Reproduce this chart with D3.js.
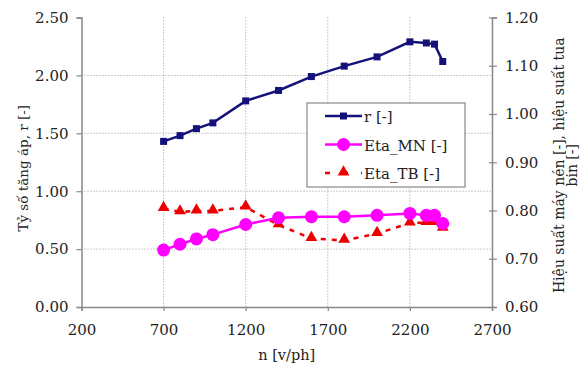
<!DOCTYPE html>
<html>
<head>
<meta charset="utf-8">
<script src="https://cdn.jsdelivr.net/npm/d3@7"></script>
<style>
  body { margin: 0; background: #fff; }
</style>
</head>
<body>
<div id="wrapper"></div>
<script>
// data
const speeds = [700, 800, 900, 1000, 1200, 1400, 1600, 1800, 2000, 2200, 2300, 2350, 2400];
const pressureRatio = [1.43, 1.48, 1.54, 1.59, 1.78, 1.87, 1.99, 2.08, 2.16, 2.29, 2.28, 2.27, 2.12];
const etaMN = [0.718, 0.730, 0.741, 0.750, 0.771, 0.785, 0.787, 0.787, 0.790, 0.794, 0.790, 0.790, 0.773];
const etaTB = [0.804, 0.797, 0.799, 0.799, 0.807, 0.770, 0.742, 0.738, 0.752, 0.774, 0.775, 0.775, 0.763];
const xTicks = [200, 700, 1200, 1700, 2200, 2700];
const yLeftTicks = [0, 0.5, 1, 1.5, 2, 2.5];
const yRightTicks = [0.6, 0.7, 0.8, 0.9, 1.0, 1.1, 1.2];

const legendItems = [
    {label: "r [-]", color: "#14127a", marker: "square", dash: null},
    {label: "Eta_MN [-]", color: "#ff00ff", marker: "circle", dash: null},
    {label: "Eta_TB [-]", color: "#ee0000", marker: "triangle", dash: "5,6"},
];

const serif = "'DejaVu Serif', serif";

let dimensions = {
    width: 581,
    height: 373,
    margin: {top: 17.5, right: 89, bottom: 66, left: 81.5}
};
dimensions.boundedWidth = dimensions.width - dimensions.margin.left - dimensions.margin.right;
dimensions.boundedHeight = dimensions.height - dimensions.margin.top - dimensions.margin.bottom;

const svg = d3.select("#wrapper").append("svg")
    .attr("width", dimensions.width)
    .attr("height", dimensions.height)
    .attr("font-family", serif)
    .attr("fill", "#222");
const bounds = svg.append("g")
    .attr("transform", `translate(${dimensions.margin.left},${dimensions.margin.top})`);

// scales
const xScale = d3.scaleLinear().domain([200, 2700]).range([0, dimensions.boundedWidth]);
const yLeft = d3.scaleLinear().domain([0, 2.5]).range([dimensions.boundedHeight, 0]);
const yRight = d3.scaleLinear().domain([0.6, 1.2]).range([dimensions.boundedHeight, 0]);

// grid
bounds.append("g").selectAll("line")
    .data(yLeftTicks.slice(1, -1))
    .join("line")
    .attr("x1", 0).attr("x2", dimensions.boundedWidth)
    .attr("y1", d => yLeft(d)).attr("y2", d => yLeft(d))
    .attr("stroke", "#999").attr("stroke-width", 1).attr("stroke-dasharray", "1,2");
bounds.append("g").selectAll("line")
    .data(xTicks.slice(1, -1))
    .join("line")
    .attr("x1", d => xScale(d)).attr("x2", d => xScale(d))
    .attr("y1", 0).attr("y2", dimensions.boundedHeight)
    .attr("stroke", "#999").attr("stroke-width", 1).attr("stroke-dasharray", "1,2");

// axes
const styleAxis = g => {
    g.attr("font-family", serif).attr("font-size", 15);
    g.select(".domain").attr("stroke", "#888").attr("stroke-width", 1.5);
    g.selectAll(".tick line").attr("stroke", "#888").attr("stroke-width", 1.2);
    g.selectAll(".tick text").attr("fill", "#222");
};
bounds.append("g")
    .call(d3.axisLeft(yLeft).tickValues(yLeftTicks).tickFormat(d3.format(".2f")).tickSizeOuter(0).tickSize(5).tickPadding(8))
    .call(styleAxis);
const rightAxis = bounds.append("g")
    .attr("transform", `translate(${dimensions.boundedWidth},0)`)
    .call(d3.axisRight(yRight).tickValues(yRightTicks).tickFormat(d3.format(".2f")).tickSizeOuter(0).tickSize(5).tickPadding(8))
    .call(styleAxis);
rightAxis.selectAll(".tick line").attr("x1", -3);
bounds.append("g")
    .attr("transform", `translate(0,${dimensions.boundedHeight})`)
    .call(d3.axisBottom(xScale).tickValues(xTicks).tickFormat(d3.format("d")).tickSizeOuter(0).tickSize(4).tickPadding(13))
    .call(styleAxis);

// axis titles
svg.append("text")
    .attr("transform", `translate(28,${dimensions.margin.top + dimensions.boundedHeight / 2 + 6}) rotate(-90)`)
    .attr("text-anchor", "middle")
    .attr("font-size", 13.5)
    .text("Tỷ số tăng áp, r [-]");
const rightTitle = svg.append("text")
    .attr("transform", `translate(564,${dimensions.margin.top + dimensions.boundedHeight / 2 + 3}) rotate(-90)`)
    .attr("text-anchor", "middle")
    .attr("font-size", 14);
rightTitle.append("tspan").attr("x", 0).attr("y", 0)
    .text("Hiệu suất máy nén [-], hiệu suất tua");
rightTitle.append("tspan").attr("x", 0).attr("y", 13)
    .text("bin [-]");
svg.append("text")
    .attr("x", dimensions.margin.left + xScale(1450))
    .attr("y", 360)
    .attr("text-anchor", "middle")
    .attr("font-size", 14.5)
    .text("n [v/ph]");

// series
const points = (ys) => speeds.map((s, i) => ({x: s, y: ys[i]}));
const rData = points(pressureRatio);
const mnData = points(etaMN);
const tbData = points(etaTB);

const lineLeft = d3.line().x(d => xScale(d.x)).y(d => yLeft(d.y));
const lineRight = d3.line().x(d => xScale(d.x)).y(d => yRight(d.y));

bounds.append("path").datum(tbData)
    .attr("d", lineRight).attr("fill", "none")
    .attr("stroke", legendItems[2].color).attr("stroke-width", 2.5)
    .attr("stroke-dasharray", legendItems[2].dash);
bounds.append("path").datum(mnData)
    .attr("d", lineRight).attr("fill", "none")
    .attr("stroke", legendItems[1].color).attr("stroke-width", 2.5);
bounds.append("path").datum(rData)
    .attr("d", lineLeft).attr("fill", "none")
    .attr("stroke", legendItems[0].color).attr("stroke-width", 2.5);

const triangle = d3.symbol().type(d3.symbolTriangle).size(60);
bounds.append("g").selectAll("path")
    .data(tbData).join("path")
    .attr("d", triangle)
    .attr("transform", d => `translate(${xScale(d.x)},${yRight(d.y) - 1})`)
    .attr("fill", legendItems[2].color);
bounds.append("g").selectAll("circle")
    .data(mnData).join("circle")
    .attr("cx", d => xScale(d.x)).attr("cy", d => yRight(d.y))
    .attr("r", 6.5)
    .attr("fill", legendItems[1].color);
bounds.append("g").selectAll("rect")
    .data(rData).join("rect")
    .attr("x", d => xScale(d.x) - 3.5).attr("y", d => yLeft(d.y) - 3.5)
    .attr("width", 7).attr("height", 7)
    .attr("fill", legendItems[0].color);

// legend
const legend = svg.append("g").attr("transform", "translate(307,103)");
legend.append("rect")
    .attr("width", 158).attr("height", 84)
    .attr("fill", "#fff").attr("stroke", "#888").attr("stroke-width", 1.2);
const entry = legend.selectAll("g.item")
    .data(legendItems).join("g")
    .attr("class", "item")
    .attr("transform", (d, i) => `translate(0,${13 + i * 28.5})`);
entry.append("line")
    .attr("x1", 18).attr("x2", 55)
    .attr("stroke", d => d.color).attr("stroke-width", 2.5)
    .attr("stroke-dasharray", d => d.dash ? "5,13" : null);
entry.filter(d => d.marker === "square").append("rect")
    .attr("x", 33).attr("y", -3.5).attr("width", 7).attr("height", 7)
    .attr("fill", d => d.color);
entry.filter(d => d.marker === "circle").append("circle")
    .attr("cx", 36.5).attr("r", 6.5).attr("fill", d => d.color);
entry.filter(d => d.marker === "triangle").append("path")
    .attr("d", triangle).attr("transform", "translate(36.5,-1)")
    .attr("fill", d => d.color);
entry.append("text")
    .attr("x", 57).attr("y", 6)
    .attr("font-size", 15)
    .text(d => d.label);
</script>
</body>
</html>
